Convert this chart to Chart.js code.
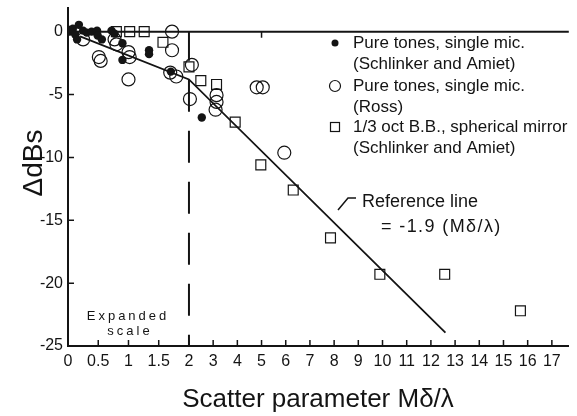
<!DOCTYPE html>
<html>
<head>
<meta charset="utf-8">
<script src="https://cdn.jsdelivr.net/npm/chart.js@4.4.0/dist/chart.umd.min.js"></script>
<style>
  html, body { margin: 0; padding: 0; background: #fff; }
  canvas { display: block; }
</style>
</head>
<body>
<canvas id="scatterChart" width="577" height="416"></canvas>
<script>
// ── Data ──
// Pure tones, single mic. (Schlinker and Amiet) - filled circles
const filledX = [0, 0.03, 0.08, 0.12, 0.15, 0.18, 0.25, 0.31, 0.39, 0.48, 0.49, 0.56, 0.72, 0.77, 0.90, 0.90, 1.34, 1.34, 1.70, 2.53];
const filledY = [0.15, 0, 0.23, -0.23, -0.62, 0.54, 0.08, -0.08, 0, 0.08, -0.31, -0.62, 0.08, -0.16, -0.93, -2.25, -1.48, -1.79, -3.18, -6.83];

// Pure tones, single mic. (Ross) - open circles
const openX = [0.25, 0.51, 0.54, 0.77, 0.80, 1.00, 1.02, 1.00, 1.72, 1.72, 1.69, 1.79, 2.12, 2.04, 3.14, 3.14, 3.10, 4.80, 5.05, 5.94];
const openY = [-0.62, -2.02, -2.33, -0.62, -1.01, -1.63, -2.02, -3.80, 0, -1.48, -3.26, -3.57, -2.64, -5.36, -5.05, -5.59, -6.21, -4.43, -4.43, -9.63];

// 1/3 oct B.B., spherical mirror (Schlinker and Amiet) - open squares
const squareX = [0.80, 1.02, 1.26, 1.57, 2.0, 2.49, 3.14, 3.91, 4.97, 6.31, 7.85, 9.89, 12.57, 15.7];
const squareY = [0, 0, 0, -0.85, -2.8, -3.9, -4.2, -7.2, -10.6, -12.6, -16.4, -19.3, -19.3, -22.2];

// Reference line = -1.9 (Mδ/λ)
const refX = [0.2, 2, 12.6];
const refY = [-0.38, -3.8, -23.94];

// Axis ticks
const xTicks = [0, 0.5, 1, 1.5, 2, 3, 4, 5, 6, 7, 8, 9, 10, 11, 12, 13, 14, 15, 16, 17];
const yTicks = [-25, -20, -15, -10, -5, 0];
const topTicks = [5];

const FONT = '"Liberation Sans", Arial, Helvetica, sans-serif';
const INK = '#141414';

// x axis is split: 0-2 is expanded 2.5x, 2-17 normal
const BREAK = 2, EXPAND = 2.5;
const tx = x => x <= BREAK ? x * EXPAND : BREAK * EXPAND + (x - BREAK);
const pts = (xs, ys) => xs.map((x, i) => ({ x: tx(x), y: ys[i] }));

// Extra drawing: zero line, inner ticks, legend, labels
const decor = {
  id: 'decor',
  beforeDatasetsDraw(chart) {
    const { ctx, chartArea: a, scales: { x, y } } = chart;
    ctx.save();
    ctx.strokeStyle = INK;
    ctx.lineWidth = 2;
    const y0 = y.getPixelForValue(0);
    ctx.beginPath();
    ctx.moveTo(a.left, y0);
    ctx.lineTo(a.right, y0);
    ctx.stroke();

    ctx.lineWidth = 1.5;
    ctx.beginPath();
    topTicks.forEach(v => {
      const px = x.getPixelForValue(tx(v));
      ctx.moveTo(px, y0); ctx.lineTo(px, y0 + 6);
    });
    xTicks.forEach(v => {
      const px = x.getPixelForValue(tx(v));
      ctx.moveTo(px, a.bottom); ctx.lineTo(px, a.bottom - 6);
    });
    yTicks.forEach(v => {
      const py = y.getPixelForValue(v);
      ctx.moveTo(a.left, py); ctx.lineTo(a.left + 6, py);
    });
    ctx.stroke();
    ctx.restore();
  },
  afterDraw(chart) {
    const { ctx } = chart;
    ctx.save();
    ctx.fillStyle = INK;
    ctx.strokeStyle = INK;

    // axis titles
    ctx.font = '26px ' + FONT;
    ctx.textAlign = 'center';
    ctx.textBaseline = 'alphabetic';
    ctx.fillText('Scatter parameter M\u03b4/\u03bb', 318, 407);
    ctx.save();
    ctx.translate(42, 163);
    ctx.rotate(-Math.PI / 2);
    ctx.font = '28px ' + FONT;
    ctx.fillText('\u0394dBs', 0, 0);
    ctx.restore();

    // expanded scale note
    ctx.font = '13px ' + FONT;
    ctx.textBaseline = 'middle';
    ctx.letterSpacing = '3px';
    ctx.fillText('Expanded', 128, 316);
    ctx.fillText('scale', 130, 331);
    ctx.letterSpacing = '0px';

    // legend
    ctx.textAlign = 'left';
    ctx.font = '17px ' + FONT;
    const lx = 353, mx = 335;
    ctx.fillText('Pure tones, single mic.', lx, 43);
    ctx.fillText('(Schlinker and Amiet)', lx, 64);
    ctx.fillText('Pure tones, single mic.', lx, 86);
    ctx.fillText('(Ross)', lx, 107);
    ctx.fillText('1/3 oct B.B., spherical mirror', lx, 127);
    ctx.fillText('(Schlinker and Amiet)', lx, 148);

    ctx.beginPath();
    ctx.arc(mx, 43, 3.5, 0, Math.PI * 2);
    ctx.fill();
    ctx.lineWidth = 1.2;
    ctx.beginPath();
    ctx.arc(mx, 86, 5.5, 0, Math.PI * 2);
    ctx.stroke();
    ctx.strokeRect(mx - 4.5, 122.5, 9, 9);

    // reference line annotation
    ctx.font = '18px ' + FONT;
    ctx.fillText('Reference line', 362, 202);
    ctx.letterSpacing = '1.4px';
    ctx.fillText('= -1.9 (M\u03b4/\u03bb)', 381, 227);
    ctx.letterSpacing = '0px';
    ctx.lineWidth = 1.5;
    ctx.beginPath();
    ctx.moveTo(338, 210);
    ctx.lineTo(348, 198);
    ctx.lineTo(356, 198);
    ctx.stroke();

    ctx.restore();
  }
};

new Chart(document.getElementById('scatterChart').getContext('2d'), {
  type: 'scatter',
  data: {
    datasets: [
      {
        label: 'Reference line',
        type: 'line',
        data: pts(refX, refY),
        borderColor: INK,
        borderWidth: 1.8,
        pointRadius: 0,
        fill: false,
        tension: 0
      },
      {
        label: 'Expanded scale limit',
        type: 'line',
        data: pts([BREAK, BREAK], [0, -25]),
        borderColor: INK,
        borderWidth: 2,
        borderDash: [32, 19],
        borderDashOffset: 3,
        pointRadius: 0,
        fill: false
      },
      {
        label: 'Pure tones, single mic. (Schlinker and Amiet)',
        data: pts(filledX, filledY),
        pointStyle: 'circle',
        pointRadius: 4.2,
        backgroundColor: INK,
        borderColor: INK,
        borderWidth: 0
      },
      {
        label: 'Pure tones, single mic. (Ross)',
        data: pts(openX, openY),
        pointStyle: 'circle',
        pointRadius: 6.5,
        backgroundColor: 'rgba(0,0,0,0)',
        borderColor: INK,
        borderWidth: 1.2
      },
      {
        label: '1/3 oct B.B., spherical mirror (Schlinker and Amiet)',
        data: pts(squareX, squareY),
        pointStyle: 'rect',
        pointRadius: 7,
        backgroundColor: 'rgba(0,0,0,0)',
        borderColor: INK,
        borderWidth: 1.2
      }
    ]
  },
  options: {
    responsive: false,
    devicePixelRatio: 1,
    animation: false,
    events: [],
    layout: { padding: 0 },
    plugins: { legend: { display: false }, tooltip: { enabled: false } },
    scales: {
      x: {
        type: 'linear',
        min: 0,
        max: 20.7,
        afterFit: s => { s.height = 70; s.paddingLeft = 0; s.paddingRight = 0; },
        afterBuildTicks: s => { s.ticks = xTicks.map(v => ({ value: tx(v) })); },
        ticks: {
          padding: 6,
          autoSkip: false,
          maxRotation: 0,
          color: INK,
          font: { family: FONT, size: 16 },
          callback: (v, i) => String(xTicks[i])
        },
        grid: { display: false, drawTicks: false },
        border: { color: INK, width: 2 }
      },
      y: {
        min: -25,
        max: 1.863,
        afterFit: s => { s.width = 68; s.paddingTop = 0; s.paddingBottom = 0; },
        afterBuildTicks: s => { s.ticks = yTicks.map(v => ({ value: v })); },
        ticks: {
          padding: 5,
          color: INK,
          font: { family: FONT, size: 16 },
          callback: v => String(v)
        },
        grid: { display: false, drawTicks: false },
        border: { color: INK, width: 2 }
      }
    }
  },
  plugins: [decor]
});
</script>
</body>
</html>
